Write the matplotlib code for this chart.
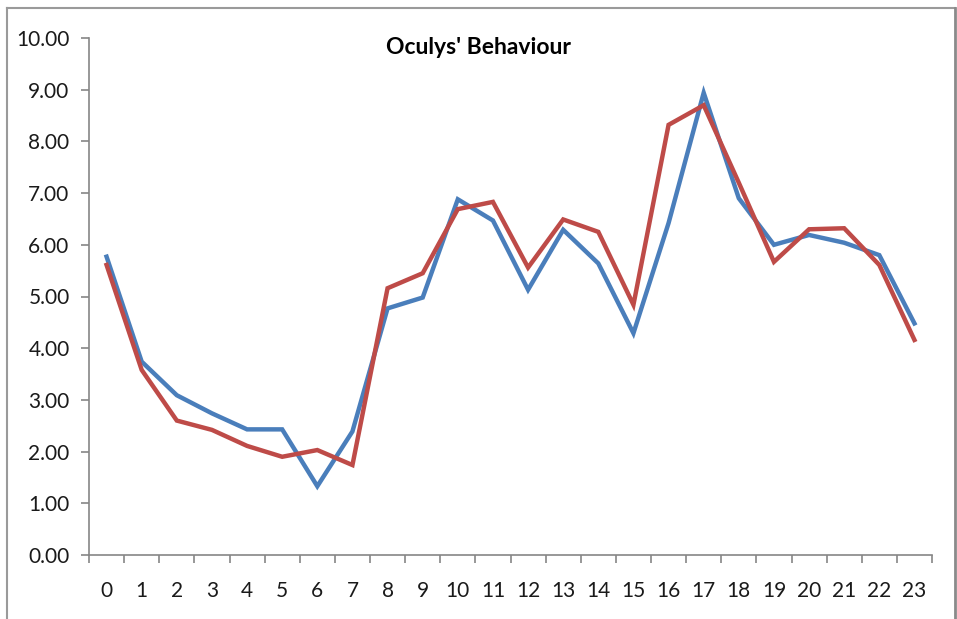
import numpy as np
import matplotlib.pyplot as plt
from matplotlib.lines import Line2D

# hourly values
hours = list(range(24))
blue_vals = [5.77, 3.74, 3.09, 2.74, 2.43, 2.43, 1.33, 2.39, 4.77, 4.98, 6.88, 6.47,
             5.13, 6.29, 5.64, 4.29, 6.42, 8.94, 6.90, 6.00, 6.19, 6.04, 5.80, 4.48]
red_vals = [5.61, 3.58, 2.60, 2.42, 2.11, 1.90, 2.03, 1.74, 5.16, 5.45, 6.69, 6.83,
            5.56, 6.49, 6.25, 4.84, 8.32, 8.70, 7.20, 5.67, 6.30, 6.32, 5.61, 4.16]
title = "Oculys' Behaviour"

plt.rcParams['font.family'] = ['Lato', 'DejaVu Sans']

W, H = 957, 619
fig = plt.figure(figsize=(W / 100, H / 100), dpi=100)
ax = fig.add_axes([89 / W, 64 / H, (932 - 89) / W, (555 - 38) / H])

x = np.arange(len(hours))
ax.plot(x, blue_vals, color='#4a7ebb', lw=3.2, solid_joinstyle='miter')
ax.plot(x, red_vals, color='#be4b48', lw=3.2, solid_joinstyle='miter')

ax.set_xlim(-0.5, len(hours) - 0.5)
ax.set_ylim(0, 10)
ax.set_yticks(np.arange(0, 11, 1))
ax.set_yticklabels(['%.2f' % v for v in np.arange(0, 11, 1)])

# category ticks between labels, labels at centres
ax.set_xticks(np.arange(-0.5, len(hours), 1))
ax.set_xticklabels([])
ax.set_xticks(x, minor=True)
ax.set_xticklabels([str(h) for h in hours], minor=True)
ax.tick_params(axis='x', which='major', length=6, width=1.2, color='#868686', direction='out')
ax.tick_params(axis='x', which='minor', length=0, pad=19, labelsize=15, labelcolor='#1a1a1a')
ax.tick_params(axis='y', length=6, width=1.2, color='#868686', pad=8,
               labelsize=15, labelcolor='#1a1a1a')

for side in ['top', 'right']:
    ax.spines[side].set_visible(False)
for side in ['left', 'bottom']:
    ax.spines[side].set_color('#868686')
    ax.spines[side].set_linewidth(1.2)

fig.text(478 / W, 1 - 48 / H, title, ha='center', va='center',
         fontsize=16.5, fontweight='bold', color='#000000')

# chart area border (bottom edge runs off the image)
bx0, bx1, by = 7 / W, 955 / W, 1 - 8 / H
fig.add_artist(Line2D([bx0, bx1], [by, by], transform=fig.transFigure, color='#9a9a9a', lw=1.5))
fig.add_artist(Line2D([bx0, bx0], [by, 0], transform=fig.transFigure, color='#9a9a9a', lw=1.5))
fig.add_artist(Line2D([bx1, bx1], [by, 0], transform=fig.transFigure, color='#8a8a8a', lw=2))

fig.savefig('out.png', dpi=100)
